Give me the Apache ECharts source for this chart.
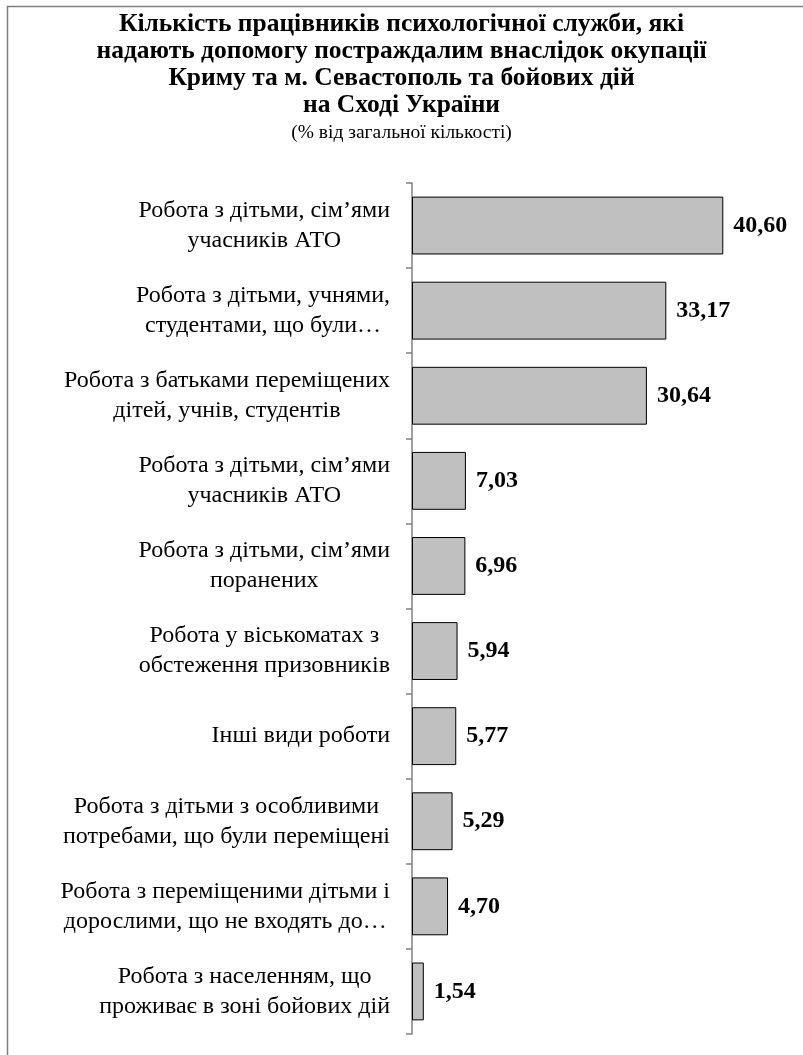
<!DOCTYPE html>
<html>
<head>
<meta charset="utf-8">
<script src="https://cdn.jsdelivr.net/npm/echarts@6/dist/echarts.min.js"></script>
<style>html,body{margin:0;padding:0;background:#fff}#c{width:803px;height:1055px}</style>
</head>
<body>
<div id="c"></div>
<script>
const titleText = 'Кількість працівників психологічної служби, які\nнадають допомогу постраждалим внаслідок окупації\nКриму та м. Севастополь та бойових дій\nна Сході України';
const subtitleText = '(% від загальної кількості)';
const categories = [
  'Робота з дітьми, сім’ями\nучасників АТО',
  'Робота з дітьми, учнями,\nстудентами, що були…',
  'Робота з батьками переміщених\nдітей, учнів, студентів',
  'Робота з дітьми, сім’ями\nучасників АТО',
  'Робота з дітьми, сім’ями\nпоранених',
  'Робота у віськоматах з\nобстеження призовників',
  'Інші види роботи',
  'Робота з дітьми з особливими\nпотребами, що були переміщені',
  'Робота з переміщеними дітьми і\nдорослими, що не входять до…',
  'Робота з населенням, що\nпроживає в зоні бойових дій'
];
const values = [40.60, 33.17, 30.64, 7.03, 6.96, 5.94, 5.77, 5.29, 4.70, 1.54];

const serif = '"Liberation Serif","Times New Roman",serif';
const chart = echarts.init(document.getElementById('c'), null, {renderer: 'canvas'});
chart.setOption({
  animation: false,
  backgroundColor: '#fff',
  graphic: [{
    type: 'rect', left: 5, top: 4, silent: true,
    shape: {width: 1000, height: 1200},
    style: {fill: 'none', stroke: '#808080', lineWidth: 1.5}
  }],
  title: {
    text: titleText,
    subtext: subtitleText,
    left: 'center', top: 6, itemGap: 4,
    textStyle: {fontFamily: serif, fontWeight: 'bold', fontSize: 25.5, lineHeight: 27, color: '#000'},
    subtextStyle: {fontFamily: serif, fontSize: 19.5, lineHeight: 20, color: '#000'}
  },
  grid: {left: 412, right: 46, top: 183, bottom: 21, containLabel: false},
  xAxis: {
    type: 'value', min: 0, max: 45, show: false
  },
  yAxis: {
    type: 'category', inverse: true, data: categories,
    axisLine: {show: true, lineStyle: {color: '#808080', width: 1.5}},
    axisTick: {show: true, inside: false, length: 6, alignWithLabel: false, lineStyle: {color: '#808080', width: 1.5}},
    axisLabel: {
      margin: 22, align: 'right',
      formatter: function (v) {
        return v.split('\n').map(function (l) { return '{c|' + l + '}'; }).join('\n');
      },
      rich: {c: {align: 'center', fontFamily: serif, fontSize: 24, lineHeight: 30, color: '#000'}}
    },
    splitLine: {show: false}
  },
  series: [{
    type: 'bar', data: values, barCategoryGap: '32%',
    itemStyle: {color: '#c0c0c0', borderColor: '#000', borderWidth: 1},
    label: {
      show: true, position: 'right', distance: 10,
      fontFamily: serif, fontWeight: 'bold', fontSize: 24, color: '#000',
      formatter: function (p) { return p.value.toFixed(2).replace('.', ','); }
    }
  }]
});
</script>
</body>
</html>
